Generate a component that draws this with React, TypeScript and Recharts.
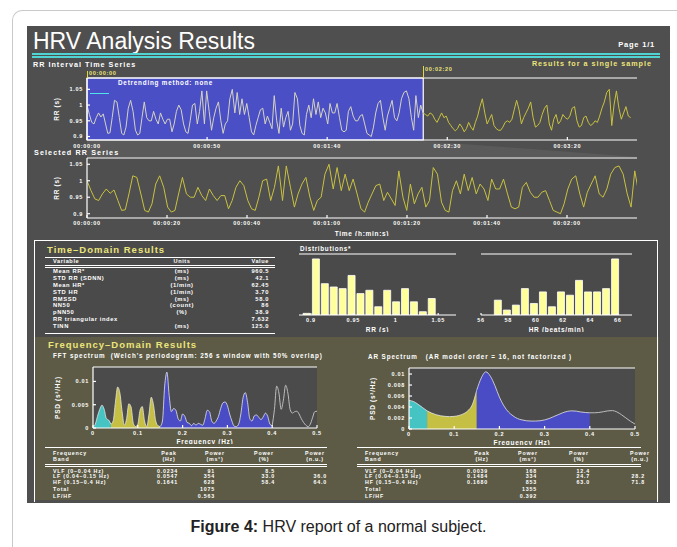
import React from 'react';
import { ComposedChart, Line, Area, Bar, XAxis, YAxis, ReferenceArea, CartesianGrid } from 'recharts';

const FONT = '"Liberation Sans", Arial, Helvetica, sans-serif';

// beat-to-beat RR intervals (s)
const RR_INTERVALS = [
  1.0, 0.97, 0.945, 0.94, 0.96, 0.975, 0.962, 0.972, 0.94, 0.91,
  0.912, 0.96, 1.015, 1.01, 0.96, 0.91, 0.905, 0.93, 0.99, 1.015,
  0.98, 0.92, 0.905, 0.91, 0.96, 1.01, 0.96, 0.95, 0.95, 0.98,
  0.955, 0.94, 0.975, 0.955, 0.94, 0.955, 0.955, 0.915, 0.94, 0.98,
  1.0, 0.985, 0.94, 0.915, 0.91, 0.95, 1.0, 1.005, 0.94, 0.98,
  1.045, 0.94, 1.045, 0.98, 0.92, 0.96, 0.99, 1.01, 0.95, 0.91,
  0.94, 0.95, 1.02, 1.05, 0.975, 1.04, 0.97, 1.02, 0.97, 1.005,
  0.96, 0.915, 0.905, 0.935, 0.96, 0.985, 0.99, 0.94, 0.965, 0.945,
  0.925, 1.03, 0.95, 0.91, 0.99, 0.93, 0.96, 0.98, 0.92, 0.94,
  1.04, 1.02, 0.935, 0.91, 0.905, 0.97, 1.0, 0.96, 1.02, 0.97,
  1.01, 0.96, 0.99, 0.975, 0.94, 1.005, 0.975, 0.975, 1.005, 0.96,
  0.92, 0.915, 0.92, 0.98, 0.995, 0.965, 0.95, 0.95, 0.965, 0.97,
  0.94, 0.91, 0.905, 0.9, 0.93, 0.975, 1.005, 1.015, 0.96, 0.92,
  0.965, 0.99, 1.015, 0.96, 0.95, 0.975, 1.02, 1.04, 1.045, 1.02,
  0.96, 0.92, 1.03, 0.96,
  1.0, 0.975, 0.97, 0.965, 0.975, 0.97, 0.955, 0.945, 0.96, 0.975,
  0.96, 0.965, 0.945, 0.935, 0.925, 0.918, 0.925, 0.94, 0.93, 0.915,
  0.925, 0.945, 0.93, 0.92, 0.945, 0.965, 0.995, 1.02, 0.975, 0.94,
  0.955, 0.97, 0.935, 0.925, 0.92, 0.92, 0.93, 0.945, 0.95, 0.945,
  0.955, 0.985, 1.015, 0.985, 0.94, 0.96, 0.975, 0.99, 1.01, 0.96,
  0.93, 0.935, 0.945, 0.97, 0.99, 1.0, 0.94, 0.92, 0.955, 0.97,
  0.94, 0.95, 0.97, 0.96, 0.955, 0.965, 0.99, 0.995, 0.95, 0.93,
  0.935, 0.96, 0.965, 0.945, 0.935, 0.94, 0.95, 0.945, 0.965, 0.99,
  1.01, 1.04, 1.05, 0.935, 1.0, 1.045, 0.99, 0.955, 0.975, 0.995, 0.965, 0.96,
];

const SELECTION_END = 140; // 00:02:20
const TOP_DOMAIN = [0, 229];
const SELECTED_DOMAIN = [0, 137.5];
const TOP_TIME_TICKS = [0, 50, 100, 150, 200];
const SELECTED_TIME_TICKS = [0, 20, 40, 60, 80, 100, 120];
const RR_TICKS = [0.9, 0.95, 1, 1.05];

// distributions
const RR_HIST_BINS = [0.895, 0.906, 0.9165, 0.927, 0.9375, 0.948, 0.9585, 0.969, 0.9795, 0.99, 1.0005, 1.011, 1.0215, 1.032, 1.0425];
const RR_HIST_COUNTS = [1, 34, 19, 17, 16, 24, 13, 15, 5, 15, 8, 16, 8, 2, 10];
const HR_HIST_BINS = [57.24, 57.9, 58.56, 59.22, 59.88, 60.54, 61.2, 61.86, 62.52, 63.18, 63.84, 64.5, 65.16, 65.82];
const HR_HIST_COUNTS = [9, 3, 6, 16, 7, 14, 5, 14, 12, 21, 14, 14, 16, 34];
const HR_TICKS = [56, 58, 60, 62, 64, 66];

// spectra, PSD in 1e-3 s^2/Hz
const FFT_STEP = 0.005;
const FFT_PSD = [
  0.2, 0.8, 2.5, 4.0, 4.9, 4.0, 2.0, 1.7, 0.8, 1.5,
  5.5, 8.8, 7.5, 3.5, 0.6, 2.0, 5.2, 4.5, 1.0, 0.3,
  0.8, 3.8, 4.6, 1.5, 0.3, 3.0, 6.6, 5.0, 1.5, 0.5,
  0.3, 1.5, 9.0, 12.0, 7.0, 3.5, 4.2, 3.8, 2.0, 1.5,
  3.0, 2.5, 1.2, 1.0, 0.5, 1.0, 0.6, 1.0, 0.8, 0.6,
  2.0, 3.8, 3.5, 1.5, 1.0, 1.5, 2.5, 4.2, 5.4, 5.6,
  4.8, 3.0, 1.5, 0.4, 0.3, 0.8, 3.0, 6.5, 7.6, 5.5,
  2.0, 1.5, 2.6, 2.8, 2.3, 1.8, 2.4, 3.2, 2.5, 0.8,
  0.5, 4.0, 9.0, 7.5, 4.0, 6.0, 9.2, 7.5, 4.0, 3.2,
  3.5, 3.6, 3.0, 2.0, 1.2, 0.6, 0.3, 0.8, 2.2, 3.5,
  3.6,
];
const AR_STEP = 0.01;
const AR_PSD = [
  5.2, 5.0, 4.5, 3.9, 3.3, 2.9, 2.6, 2.4, 2.3, 2.25,
  2.3, 2.45, 2.75, 3.3, 4.4, 7.1, 9.3, 10.4, 9.6, 7.9,
  5.8, 4.2, 3.1, 2.4, 1.9, 1.65, 1.5, 1.45, 1.45, 1.5,
  1.65, 1.9, 2.25, 2.6, 2.95, 3.2, 3.3, 3.25, 3.1, 3.0,
  2.95, 2.95, 3.0, 3.15, 3.3, 3.35, 3.1, 2.6, 2.0, 1.4,
  0.9,
];
const BAND_EDGES = [0.04, 0.15, 0.4];
const FREQ_TICKS = [0, 0.1, 0.2, 0.3, 0.4, 0.5];
const FFT_Y_TICKS = [0, 0.005, 0.01];
const AR_Y_TICKS = [0, 0.002, 0.004, 0.006, 0.008, 0.01];

// tables
const TD_VARIABLES = ['Mean RR*', 'STD RR (SDNN)', 'Mean HR*', 'STD HR', 'RMSSD', 'NN50', 'pNN50', 'RR triangular index', 'TINN'];
const TD_UNITS = ['(ms)', '(ms)', '(1/min)', '(1/min)', '(ms)', '(count)', '(%)', '', '(ms)'];
const TD_VALUES = ['960.5', '42.1', '62.45', '3.70', '58.0', '86', '38.9', '7.632', '125.0'];

const BAND_LABELS = ['VLF (0–0.04 Hz)', 'LF (0.04–0.15 Hz)', 'HF (0.15–0.4 Hz)'];
const FFT_PEAK = ['0.0234', '0.0547', '0.1641'];
const FFT_POWER = ['91', '354', '628'];
const FFT_PCT = ['8.5', '33.0', '58.4'];
const FFT_NU = ['', '36.0', '64.0'];
const FFT_TOTAL = '1075';
const FFT_RATIO = '0.563';
const AR_PEAK = ['0.0039', '0.1484', '0.1680'];
const AR_POWER = ['168', '334', '853'];
const AR_PCT = ['12.4', '24.7', '63.0'];
const AR_NU = ['', '28.2', '71.8'];
const AR_TOTAL = '1355';
const AR_RATIO = '0.392';

const pad = (n: number) => String(n).padStart(2, '0');
const hms = (s: number) => {
  const m = Math.floor(s / 60);
  return `00:${pad(m)}:${pad(Math.round(s - m * 60))}`;
};
const num = (v: number) => String(v);

let clock = 0;
const beats = RR_INTERVALS.map((rr) => {
  const b = { t: clock, rr };
  clock += rr;
  return b;
});
const lastSel = beats.filter((b) => b.t <= SELECTION_END).length - 1;
const topData = beats.map((b, i) => ({ t: b.t, sel: i <= lastSel ? b.rr : null, rest: i >= lastSel ? b.rr : null }));
const selectedData = beats.filter((b, i) => i <= lastSel);

function bandSplit(values: number[], step: number) {
  const [e0, e1, e2] = BAND_EDGES.map((e) => Math.round(e / step));
  return values.map((v, i) => {
    const psd = v / 1000;
    return {
      f: +(i * step).toFixed(3),
      vlf: i <= e0 ? psd : null,
      lf: i >= e0 && i <= e1 ? psd : null,
      hf: i >= e1 && i <= e2 ? psd : null,
      rest: i >= e2 ? psd : null,
    };
  });
}
const fftData = bandSplit(FFT_PSD, FFT_STEP);
const arData = bandSplit(AR_PSD, AR_STEP);
const rrHist = RR_HIST_BINS.map((x, i) => ({ x, n: RR_HIST_COUNTS[i] }));
const hrHist = HR_HIST_BINS.map((x, i) => ({ x, n: HR_HIST_COUNTS[i] }));

const WHITE = { stroke: '#ffffff', strokeWidth: 1.2 };
const tickText = { fill: '#ffffff', fontSize: 5.5, fontWeight: 700, fontFamily: FONT, letterSpacing: 0.7 };
const labelText = { fill: '#ffffff', fontSize: 6.5, fontWeight: 700, fontFamily: FONT, letterSpacing: 0.7 };

const YELLOW = '#ece57a';
const VLF_C = '#46c3c3';
const LF_C = '#c5bf43';
const HF_C = '#4a4cc6';

function T({ x, y, size = 6.5, color = '#fff', align = 'left', weight = 700, ls = 0.8, children }: any) {
  const shift = align === 'right' ? '-100%' : align === 'center' ? '-50%' : '0';
  return (
    <div
      style={{
        position: 'absolute', left: x, top: y - size / 2, fontSize: size, lineHeight: `${size}px`,
        color, fontWeight: weight, fontFamily: FONT, whiteSpace: 'nowrap', letterSpacing: ls,
        transform: `translateX(${shift})`,
      }}
    >
      {children}
    </div>
  );
}

function Rule({ x, y, w, h = 1, color = '#fff' }: any) {
  return <div style={{ position: 'absolute', left: x, top: y, width: w, height: h, background: color }} />;
}

function Box({ x, y, children }: any) {
  return <div style={{ position: 'absolute', left: x, top: y }}>{children}</div>;
}

function FreqTable({ x0, lineW, cols, peak, power, pct, nu, total, ratio }: any) {
  const rowsY = [471.4, 477, 482.6];
  const s = 5.3;
  return (
    <>
      <Rule x={x0 - 8} y={447} w={lineW} />
      <T x={x0} y={453.2} size={s}>Frequency</T>
      <T x={x0} y={459.2} size={s}>Band</T>
      <T x={cols[0]} y={453.2} size={s} align="center">Peak</T>
      <T x={cols[0]} y={459.2} size={s} align="center">(Hz)</T>
      <T x={cols[1]} y={453.2} size={s} align="center">Power</T>
      <T x={cols[1]} y={459.2} size={s} align="center">(ms²)</T>
      <T x={cols[2]} y={453.2} size={s} align="center">Power</T>
      <T x={cols[2]} y={459.2} size={s} align="center">(%)</T>
      <T x={cols[3]} y={453.2} size={s} align="center">Power</T>
      <T x={cols[3]} y={459.2} size={s} align="center">(n.u.)</T>
      <Rule x={x0 - 8} y={464.4} w={lineW} />
      <Rule x={x0 - 8} y={466.4} w={lineW} />
      {BAND_LABELS.map((b, i) => (
        <React.Fragment key={b}>
          <T x={x0} y={rowsY[i]} size={s}>{b}</T>
          <T x={cols[4]} y={rowsY[i]} size={s} align="right">{peak[i]}</T>
          <T x={cols[5]} y={rowsY[i]} size={s} align="right">{power[i]}</T>
          <T x={cols[6]} y={rowsY[i]} size={s} align="right">{pct[i]}</T>
          <T x={cols[7]} y={rowsY[i]} size={s} align="right">{nu[i]}</T>
        </React.Fragment>
      ))}
      <T x={x0} y={489.3} size={s}>Total</T>
      <T x={cols[5]} y={489.3} size={s} align="right">{total}</T>
      <T x={x0} y={496.2} size={s}>LF/HF</T>
      <T x={cols[5]} y={496.2} size={s} align="right">{ratio}</T>
    </>
  );
}

export default function App() {
  return (
    <div style={{ position: 'absolute', left: 0, top: 0, width: 677, height: 547, background: '#fff', overflow: 'hidden' }}>
      {/* outer frame */}
      <div style={{ position: 'absolute', left: 12, top: 10, width: 720, height: 600, borderLeft: '1px solid #c9c9c9', borderTop: '1px solid #c9c9c9', borderTopLeftRadius: 10 }} />

      {/* report page */}
      <div style={{ position: 'absolute', left: 27, top: 26, width: 643, height: 477, background: '#4f4f4f' }} />
      <svg style={{ position: 'absolute', left: 0, top: 0 }} width={677} height={547}>
        <polygon points="87,141 423,141 637,157 87,157" fill="#5a5a5a" />
      </svg>

      <T x={33} y={41} size={23} weight={400} ls={0}>HRV Analysis Results</T>
      <T x={655} y={45} size={7.5} align="right">Page 1/1</T>
      <Rule x={32} y={52.5} w={628} h={2} color="#4fd3d3" />
      <Rule x={32} y={56} w={628} h={2} color="#4fd3d3" />
      <T x={33} y={64.3} size={7.2} ls={1}>RR Interval Time Series</T>
      <T x={652} y={63.3} size={7.2} ls={1} align="right" color={YELLOW}>Results for a single sample</T>

      {/* full RR series with analysed window */}
      <Box x={27} y={70}>
        <ComposedChart width={618} height={92} data={topData} margin={{ top: 7, right: 8, bottom: 0, left: 0 }}>
          <ReferenceArea x1={0} x2={SELECTION_END} fill="#4b4fc6" fillOpacity={1} stroke="#ffffff" strokeWidth={1.2} />
          <XAxis dataKey="t" type="number" domain={TOP_DOMAIN} ticks={TOP_TIME_TICKS} interval={0} tickFormatter={hms} height={22} tick={tickText} tickSize={-3} tickMargin={7} axisLine={WHITE} tickLine={WHITE} allowDataOverflow />
          <XAxis xAxisId="top" orientation="top" type="number" domain={TOP_DOMAIN} ticks={TOP_TIME_TICKS} interval={0} height={1} tick={false} tickSize={-3} axisLine={WHITE} tickLine={WHITE} allowDataOverflow />
          <YAxis type="number" domain={[0.889, 1.086]} ticks={RR_TICKS} interval={0} tickFormatter={num} width={60} tick={tickText} tickSize={-3} tickMargin={7} axisLine={WHITE} tickLine={WHITE} allowDataOverflow label={{ value: 'RR (s)', angle: -90, position: 'center', ...labelText }} />
          <YAxis yAxisId="right" orientation="right" type="number" domain={[0.889, 1.086]} ticks={RR_TICKS} interval={0} width={0} tick={false} tickSize={-3} axisLine={WHITE} tickLine={WHITE} allowDataOverflow />
          <Line dataKey="sel" type="linear" stroke="#d4d3bf" strokeWidth={1} dot={false} activeDot={false} isAnimationActive={false} />
          <Line dataKey="rest" type="linear" stroke="#c9c23f" strokeWidth={1} dot={false} activeDot={false} isAnimationActive={false} />
        </ComposedChart>
      </Box>
      <Rule x={86.5} y={71} w={1.2} h={7} color="#e3d640" />
      <Rule x={422.5} y={66} w={1.2} h={12} color="#e3d640" />
      <T x={89} y={74} size={5.5} ls={0.7} color={YELLOW}>00:00:00</T>
      <T x={425} y={70} size={5.5} ls={0.7} color={YELLOW}>00:02:20</T>
      <T x={118} y={83.3} size={6.3} ls={0.8}>Detrending method: none</T>
      <Rule x={90} y={92.5} w={19} h={1.5} color="#4fe3ea" />

      {/* selected window */}
      <T x={34} y={152.3} size={7.2} ls={1.1}>Selected RR Series</T>
      <Box x={27} y={150}>
        <ComposedChart width={618} height={86} data={selectedData} margin={{ top: 7, right: 8, bottom: 0, left: 0 }}>
          <XAxis dataKey="t" type="number" domain={SELECTED_DOMAIN} ticks={SELECTED_TIME_TICKS} interval={0} tickFormatter={hms} height={18} tick={tickText} tickSize={-3} tickMargin={6} axisLine={WHITE} tickLine={WHITE} allowDataOverflow label={{ value: 'Time (h:min:s)', position: 'insideBottom', offset: 0, ...labelText }} />
          <XAxis xAxisId="top" orientation="top" type="number" domain={SELECTED_DOMAIN} ticks={SELECTED_TIME_TICKS} interval={0} height={1} tick={false} tickSize={-3} axisLine={WHITE} tickLine={WHITE} allowDataOverflow />
          <YAxis type="number" domain={[0.887, 1.069]} ticks={RR_TICKS} interval={0} tickFormatter={num} width={60} tick={tickText} tickSize={-3} tickMargin={7} axisLine={WHITE} tickLine={WHITE} allowDataOverflow label={{ value: 'RR (s)', angle: -90, position: 'center', ...labelText }} />
          <YAxis yAxisId="right" orientation="right" type="number" domain={[0.887, 1.069]} ticks={RR_TICKS} interval={0} width={0} tick={false} tickSize={-3} axisLine={WHITE} tickLine={WHITE} allowDataOverflow />
          <Line dataKey="rr" type="linear" stroke="#c9c23f" strokeWidth={1} dot={false} activeDot={false} isAnimationActive={false} />
        </ComposedChart>
      </Box>

      {/* lower sections */}
      <div style={{ position: 'absolute', left: 35, top: 241, width: 624, height: 96, background: '#4a4a4a' }} />
      <div style={{ position: 'absolute', left: 35, top: 337, width: 624, height: 163, background: '#5d5b46' }} />
      <div style={{ position: 'absolute', left: 34, top: 240, width: 624, height: 262, borderLeft: '1.5px solid #fff', borderTop: '1.5px solid #fff', borderRight: '1.5px solid #fff', boxSizing: 'border-box' }} />

      <T x={47} y={250} size={9.5} ls={1} color={YELLOW}>Time–Domain Results</T>
      <Rule x={45} y={257.2} w={230} />
      <T x={53} y={261.5} size={5.6} ls={0.6}>Variable</T>
      <T x={182} y={261.5} size={5.6} ls={0.6} align="center">Units</T>
      <T x={269} y={261.5} size={5.6} ls={0.6} align="right">Value</T>
      <Rule x={45} y={265.4} w={230} />
      <Rule x={45} y={267.4} w={230} />
      {TD_VARIABLES.map((v, i) => (
        <React.Fragment key={v}>
          <T x={53} y={271.8 + i * 6.9} size={5.8} ls={0.6}>{v}</T>
          <T x={182} y={271.8 + i * 6.9} size={5.8} ls={0.6} align="center">{TD_UNITS[i]}</T>
          <T x={269} y={271.8 + i * 6.9} size={5.8} ls={0.6} align="right">{TD_VALUES[i]}</T>
        </React.Fragment>
      ))}
      <Rule x={45} y={333} w={230} />

      <T x={300} y={249} size={6.3} ls={0.7}>Distributions*</T>
      <Box x={280} y={246}>
        <ComposedChart width={184} height={86} data={rrHist} margin={{ top: 7, right: 8, bottom: 0, left: 19 }}>
          <XAxis dataKey="x" type="number" domain={[0.886, 1.071]} ticks={RR_TICKS} interval={0} tickFormatter={num} height={17} tick={tickText} tickSize={-2} tickMargin={5} axisLine={WHITE} tickLine={WHITE} allowDataOverflow label={{ value: 'RR (s)', position: 'insideBottom', offset: 0, ...labelText }} />
          <XAxis xAxisId="top" orientation="top" type="number" domain={[0.886, 1.071]} ticks={RR_TICKS} interval={0} height={1} tick={false} tickSize={-2} axisLine={WHITE} tickLine={WHITE} allowDataOverflow />
          <YAxis type="number" domain={[0, 37]} width={0} tick={false} tickLine={false} axisLine={WHITE} allowDataOverflow />
          <YAxis yAxisId="right" orientation="right" type="number" domain={[0, 37]} width={0} tick={false} tickLine={false} axisLine={WHITE} allowDataOverflow />
          <Bar dataKey="n" fill="#ffff9c" stroke="#ffffff" strokeWidth={0.8} isAnimationActive={false} />
        </ComposedChart>
      </Box>
      <Box x={462} y={246}>
        <ComposedChart width={178} height={86} data={hrHist} margin={{ top: 7, right: 8, bottom: 0, left: 19 }}>
          <XAxis dataKey="x" type="number" domain={[56, 67.05]} ticks={HR_TICKS} interval={0} tickFormatter={num} height={17} tick={tickText} tickSize={-2} tickMargin={5} axisLine={WHITE} tickLine={WHITE} allowDataOverflow label={{ value: 'HR (beats/min)', position: 'insideBottom', offset: 0, ...labelText }} />
          <XAxis xAxisId="top" orientation="top" type="number" domain={[56, 67.05]} ticks={HR_TICKS} interval={0} height={1} tick={false} tickSize={-2} axisLine={WHITE} tickLine={WHITE} allowDataOverflow />
          <YAxis type="number" domain={[0, 37]} width={0} tick={false} tickLine={false} axisLine={WHITE} allowDataOverflow />
          <YAxis yAxisId="right" orientation="right" type="number" domain={[0, 37]} width={0} tick={false} tickLine={false} axisLine={WHITE} allowDataOverflow />
          <Bar dataKey="n" fill="#ffff9c" stroke="#ffffff" strokeWidth={0.8} isAnimationActive={false} />
        </ComposedChart>
      </Box>

      <T x={48} y={345} size={9.5} ls={1} color={YELLOW}>Frequency–Domain Results</T>
      <T x={53} y={356} size={6.3} ls={0.9}>FFT spectrum&nbsp;&nbsp;(Welch's periodogram: 256 s window with 50% overlap)</T>
      <T x={368} y={357} size={6.3} ls={0.9}>AR Spectrum&nbsp;&nbsp;&nbsp;(AR model order = 16, not factorized )</T>

      <Box x={23} y={359}>
        <ComposedChart width={302} height={85} data={fftData} margin={{ top: 7, right: 8, bottom: 0, left: 0 }}>
          <CartesianGrid fill="#4b4b4b" stroke="none" horizontal={false} vertical={false} />
          <XAxis dataKey="f" type="number" domain={[0, 0.5]} ticks={FREQ_TICKS} interval={0} tickFormatter={num} height={16} tick={tickText} tickSize={-3} tickMargin={6} axisLine={WHITE} tickLine={WHITE} allowDataOverflow label={{ value: 'Frequency (Hz)', position: 'insideBottom', offset: 0, ...labelText }} />
          <XAxis xAxisId="top" orientation="top" type="number" domain={[0, 0.5]} ticks={FREQ_TICKS} interval={0} height={1} tick={false} tickSize={-3} axisLine={WHITE} tickLine={WHITE} allowDataOverflow />
          <YAxis type="number" domain={[0, 0.0131]} ticks={FFT_Y_TICKS} interval={0} tickFormatter={num} width={70} tick={tickText} tickSize={-3} tickMargin={7} axisLine={WHITE} tickLine={WHITE} allowDataOverflow label={{ value: 'PSD (s²/Hz)', angle: -90, position: 'center', ...labelText }} />
          <YAxis yAxisId="right" orientation="right" type="number" domain={[0, 0.0131]} ticks={FFT_Y_TICKS} interval={0} width={0} tick={false} tickSize={-3} axisLine={WHITE} tickLine={WHITE} allowDataOverflow />
          <Area dataKey="vlf" type="monotone" stroke="#e6e6e6" strokeWidth={0.8} fill={VLF_C} fillOpacity={1} dot={false} activeDot={false} isAnimationActive={false} />
          <Area dataKey="lf" type="monotone" stroke="#e6e6e6" strokeWidth={0.8} fill={LF_C} fillOpacity={1} dot={false} activeDot={false} isAnimationActive={false} />
          <Area dataKey="hf" type="monotone" stroke="#e6e6e6" strokeWidth={0.8} fill={HF_C} fillOpacity={1} dot={false} activeDot={false} isAnimationActive={false} />
          <Line dataKey="rest" type="monotone" stroke="#bdbdbd" strokeWidth={1} dot={false} activeDot={false} isAnimationActive={false} />
        </ComposedChart>
      </Box>

      <Box x={337} y={360}>
        <ComposedChart width={306} height={85} data={arData} margin={{ top: 7, right: 8, bottom: 0, left: 0 }}>
          <CartesianGrid fill="#4b4b4b" stroke="none" horizontal={false} vertical={false} />
          <XAxis dataKey="f" type="number" domain={[0, 0.5]} ticks={FREQ_TICKS} interval={0} tickFormatter={num} height={16} tick={tickText} tickSize={-3} tickMargin={6} axisLine={WHITE} tickLine={WHITE} allowDataOverflow label={{ value: 'Frequency (Hz)', position: 'insideBottom', offset: 0, ...labelText }} />
          <XAxis xAxisId="top" orientation="top" type="number" domain={[0, 0.5]} ticks={FREQ_TICKS} interval={0} height={1} tick={false} tickSize={-3} axisLine={WHITE} tickLine={WHITE} allowDataOverflow />
          <YAxis type="number" domain={[0, 0.0111]} ticks={AR_Y_TICKS} interval={0} tickFormatter={num} width={72} tick={tickText} tickSize={-3} tickMargin={7} axisLine={WHITE} tickLine={WHITE} allowDataOverflow label={{ value: 'PSD (s²/Hz)', angle: -90, position: 'center', ...labelText }} />
          <YAxis yAxisId="right" orientation="right" type="number" domain={[0, 0.0111]} ticks={AR_Y_TICKS} interval={0} width={0} tick={false} tickSize={-3} axisLine={WHITE} tickLine={WHITE} allowDataOverflow />
          <Area dataKey="vlf" type="monotone" stroke="#e6e6e6" strokeWidth={0.8} fill={VLF_C} fillOpacity={1} dot={false} activeDot={false} isAnimationActive={false} />
          <Area dataKey="lf" type="monotone" stroke="#e6e6e6" strokeWidth={0.8} fill={LF_C} fillOpacity={1} dot={false} activeDot={false} isAnimationActive={false} />
          <Area dataKey="hf" type="monotone" stroke="#e6e6e6" strokeWidth={0.8} fill={HF_C} fillOpacity={1} dot={false} activeDot={false} isAnimationActive={false} />
          <Line dataKey="rest" type="monotone" stroke="#bdbdbd" strokeWidth={1} dot={false} activeDot={false} isAnimationActive={false} />
        </ComposedChart>
      </Box>

      <FreqTable x0={53} lineW={282} cols={[169, 215, 264, 315, 178, 215, 275, 327]}
        peak={FFT_PEAK} power={FFT_POWER} pct={FFT_PCT} nu={FFT_NU} total={FFT_TOTAL} ratio={FFT_RATIO} />
      <FreqTable x0={365} lineW={284} cols={[482, 528, 579, 640, 488, 537, 590, 645]}
        peak={AR_PEAK} power={AR_POWER} pct={AR_PCT} nu={AR_NU} total={AR_TOTAL} ratio={AR_RATIO} />

      <div style={{ position: 'absolute', left: 0, width: 677, top: 518, textAlign: 'center', fontFamily: FONT, fontSize: 16, color: '#222' }}>
        <b>Figure 4:</b> HRV report of a normal subject.
      </div>
    </div>
  );
}
